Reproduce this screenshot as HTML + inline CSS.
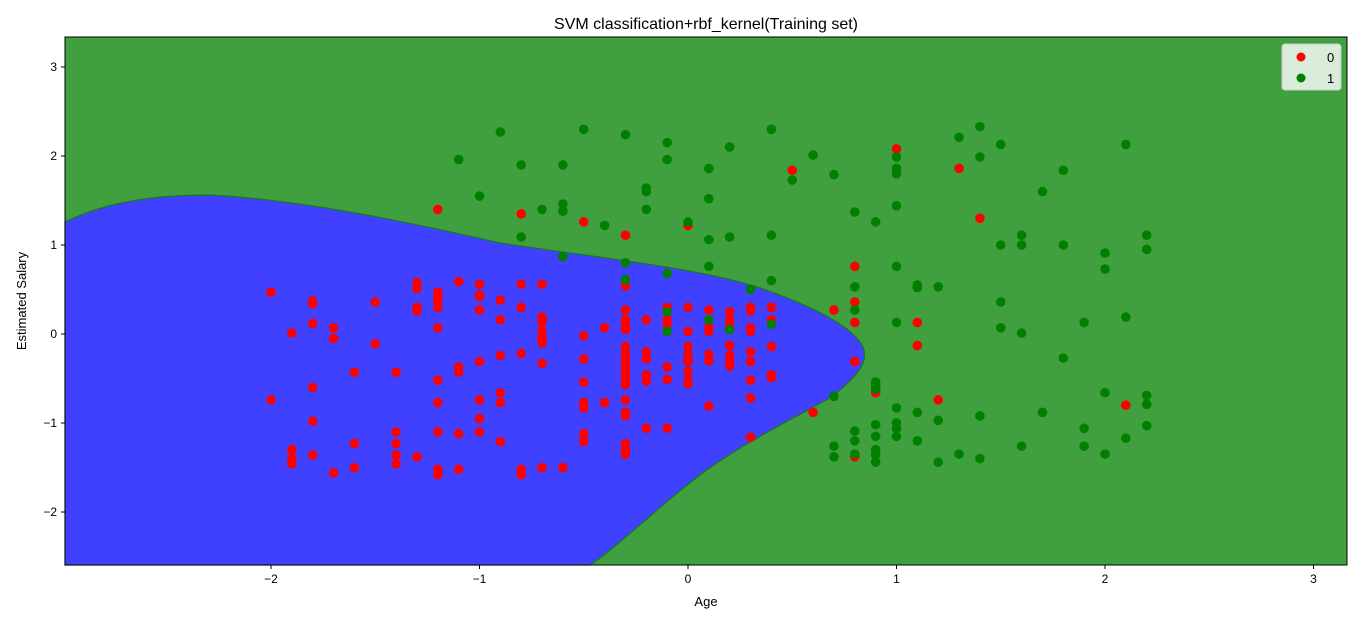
<!DOCTYPE html>
<html><head><meta charset="utf-8"><style>
body{margin:0;background:#fff;font-family:"Liberation Sans","DejaVu Sans",sans-serif;}
svg text{font-family:"Liberation Sans","DejaVu Sans",sans-serif;}
</style></head><body>
<svg id="chart" width="1366" height="623">
<rect x="0" y="0" width="1366" height="623" fill="#fff"/>
<g id="plot"></g>
<g id="axes"></g>
<text x="706" y="29" font-size="16" text-anchor="middle">SVM classification+rbf_kernel(Training set)</text>
<text x="706" y="606" font-size="13" text-anchor="middle">Age</text>
<text x="26" y="301" font-size="13" text-anchor="middle" transform="rotate(-90 26 301)">Estimated Salary</text>
<g>
<rect x="1282" y="44" width="59" height="46" rx="3" fill="#fff" fill-opacity="0.8" stroke="#ccc"/>
<circle cx="1301" cy="57" r="4.5" fill="#ff0000"/>
<text x="1327" y="62" font-size="13">0</text>
<circle cx="1301" cy="78" r="4.5" fill="#008000"/>
<text x="1327" y="83" font-size="13">1</text>
</g>
</svg>
<script>
const xTicks=[-2,-1,0,1,2,3];
const yTicks=[-2,-1,0,1,2,3];
const redX=[-2,-2,-1.9,-1.9,-1.9,-1.9,-1.8,-1.8,-1.8,-1.8,-1.8,-1.8,-1.7,-1.7,-1.7,-1.6,-1.6,-1.6,-1.5,-1.5,-1.4,-1.4,-1.4,-1.4,-1.4,-1.3,-1.3,-1.3,-1.3,-1.3,-1.2,-1.2,-1.2,-1.2,-1.2,-1.2,-1.2,-1.2,-1.2,-1.2,-1.2,-1.1,-1.1,-1.1,-1.1,-1.1,-1,-1,-1,-1,-1,-1,-1,-1,-0.9,-0.9,-0.9,-0.9,-0.9,-0.9,-0.8,-0.8,-0.8,-0.8,-0.8,-0.8,-0.7,-0.7,-0.7,-0.7,-0.7,-0.7,-0.7,-0.7,-0.6,-0.5,-0.5,-0.5,-0.5,-0.5,-0.5,-0.5,-0.5,-0.4,-0.4,-0.3,-0.3,-0.3,-0.3,-0.3,-0.3,-0.3,-0.3,-0.3,-0.3,-0.3,-0.3,-0.3,-0.3,-0.3,-0.3,-0.3,-0.3,-0.3,-0.3,-0.2,-0.2,-0.2,-0.2,-0.2,-0.2,-0.1,-0.1,-0.1,-0.1,-0.1,-0.1,0,0,0,0,0,0,0,0,0,0,0.1,0.1,0.1,0.1,0.1,0.1,0.2,0.2,0.2,0.2,0.2,0.2,0.2,0.3,0.3,0.3,0.3,0.3,0.3,0.3,0.3,0.3,0.4,0.4,0.4,0.4,0.4,0.5,0.6,0.7,0.8,0.8,0.8,0.8,0.8,0.9,1,1.1,1.1,1.2,1.3,1.4,2.1];
const redY=[0.47,-0.74,0.01,-1.30,-1.40,-1.46,0.37,0.34,0.12,-0.6,-0.98,-1.36,0.07,-0.05,-1.56,-0.43,-1.23,-1.5,0.36,-0.11,-0.43,-1.1,-1.23,-1.36,-1.46,0.58,0.51,0.3,0.26,-1.38,1.4,0.47,0.41,0.36,0.3,0.07,-0.52,-0.77,-1.1,-1.52,-1.58,0.59,-0.37,-0.43,-1.12,-1.52,0.56,0.42,0.44,0.27,-0.31,-0.74,-0.95,-1.1,0.38,0.16,-0.24,-0.66,-0.77,-1.21,1.35,0.56,0.3,-0.22,-1.52,-1.58,0.56,0.19,0.13,0.03,-0.05,-0.1,-0.33,-1.5,-1.5,1.26,-0.02,-0.28,-0.54,-0.77,-0.83,-1.12,-1.21,0.07,-0.77,1.11,0.54,0.27,0.16,0.11,0.05,-0.14,-0.22,-0.28,-0.33,-0.4,-0.46,-0.52,-0.57,-0.74,-0.88,-0.92,-1.23,-1.3,-1.35,0.16,-0.2,-0.28,-0.46,-0.53,-1.06,0.3,0.16,0.11,-0.37,-0.51,-1.06,1.22,0.3,0.03,-0.14,-0.22,-0.28,-0.31,-0.42,-0.52,-0.56,0.27,0.07,0.03,-0.23,-0.3,-0.81,0.25,0.16,0.1,-0.13,-0.24,-0.31,-0.36,0.3,0.26,0.07,0.03,-0.2,-0.31,-0.52,-0.72,-1.16,0.3,0.16,-0.14,-0.46,-0.49,1.84,-0.88,0.27,0.76,0.36,0.13,-0.31,-1.38,-0.66,2.08,0.13,-0.13,-0.74,1.86,1.3,-0.8];
const greenX=[-1.1,-1,-0.9,-0.8,-0.8,-0.7,-0.6,-0.6,-0.6,-0.6,-0.5,-0.4,-0.3,-0.3,-0.3,-0.2,-0.2,-0.2,-0.1,-0.1,-0.1,-0.1,-0.1,0,0.1,0.1,0.1,0.1,0.1,0.2,0.2,0.2,0.3,0.4,0.4,0.4,0.4,0.5,0.6,0.7,0.7,0.7,0.7,0.8,0.8,0.8,0.8,0.8,0.8,0.9,0.9,0.9,0.9,0.9,0.9,0.9,0.9,0.9,1,1,1,1,1,1,1,1,1,1,1.1,1.1,1.1,1.1,1.2,1.2,1.2,1.3,1.3,1.4,1.4,1.4,1.4,1.5,1.5,1.5,1.5,1.6,1.6,1.6,1.6,1.7,1.7,1.8,1.8,1.8,1.9,1.9,1.9,2,2,2,2,2.1,2.1,2.1,2.2,2.2,2.2,2.2,2.2];
const greenY=[1.96,1.55,2.27,1.9,1.09,1.4,1.9,1.46,1.38,0.87,2.3,1.22,2.24,0.8,0.61,1.64,1.6,1.4,2.15,1.96,0.68,0.25,0.03,1.26,1.86,1.52,1.06,0.76,0.16,2.1,1.09,0.05,0.5,2.3,1.11,0.6,0.11,1.73,2.01,1.79,-0.7,-1.26,-1.38,1.37,0.53,0.27,-1.09,-1.2,-1.35,1.26,-0.54,-0.58,-0.62,-1.02,-1.15,-1.3,-1.36,-1.44,1.99,1.86,1.8,1.44,0.76,0.13,-0.83,-1.0,-1.06,-1.15,0.55,0.52,-0.88,-1.2,0.53,-0.97,-1.44,2.21,-1.35,2.33,1.99,-0.92,-1.4,2.13,1.0,0.36,0.07,1.11,1.0,0.01,-1.26,1.6,-0.88,1.84,1.0,-0.27,0.13,-1.06,-1.26,0.91,0.73,-0.66,-1.35,2.13,0.19,-1.17,1.11,0.95,-0.69,-0.79,-1.03];
const NS='http://www.w3.org/2000/svg';
const L=65,R=1347,T=37,B=565;
function sx(v){return 688+v*208.5;}
function sy(v){return 334-v*89;}
function mk(tag,attrs,parent){const e=document.createElementNS(NS,tag);for(const k in attrs)e.setAttribute(k,attrs[k]);parent.appendChild(e);return e;}
const plot=document.getElementById('plot'),axes=document.getElementById('axes');
const bg=mk('rect',{x:L,y:T,width:R-L,height:B-T,fill:'#40a040'},plot);


const reg=mk('path',{d:'M65,222 C110,200 160,195 210,195 C300,200 400,220 500,243 C600,258 700,268 760,288 C810,305 850,325 862,345 C870,360 860,375 830,398 C790,420 740,445 700,475 C660,505 620,545 590,565 L65,565 Z',fill:'#4040ff',stroke:'#1a7a1a','stroke-width':1.2},plot);


redX.forEach((x,i)=>{const c=mk('circle',{cx:sx(x),cy:sy(redY[i]),r:4.8,fill:'#ff0000'},plot);

});
greenX.forEach((x,i)=>{const c=mk('circle',{cx:sx(x),cy:sy(greenY[i]),r:4.8,fill:'#008000'},plot);

});
const fr=mk('rect',{x:L,y:T,width:R-L,height:B-T,fill:'none',stroke:'#000','stroke-width':1},axes);


xTicks.forEach(t=>{const x=sx(t);mk('line',{x1:x,x2:x,y1:B,y2:B+4,stroke:'#000'},axes);
const tx=mk('text',{x:x,y:B+18,'font-size':12,'text-anchor':'middle'},axes);tx.textContent=(t<0?'\u2212'+(-t):t);

});
yTicks.forEach(t=>{const y=sy(t);mk('line',{x1:L-4,x2:L,y1:y,y2:y,stroke:'#000'},axes);
const tx=mk('text',{x:L-8,y:y+4,'font-size':12,'text-anchor':'end'},axes);tx.textContent=(t<0?'\u2212'+(-t):t);

});
</script>
</body></html>
